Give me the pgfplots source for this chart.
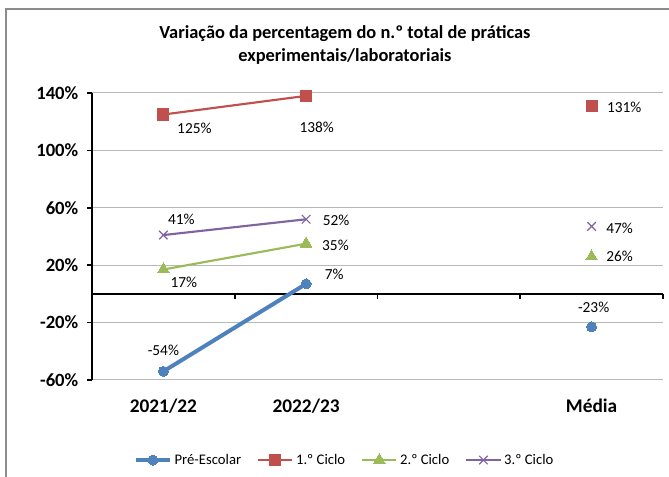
\documentclass[border=0pt]{standalone}
\usepackage{pgfplots}
\pgfplotsset{compat=1.18}
\usepackage{fontspec}
\setmainfont{Carlito}
\definecolor{cblue}{HTML}{4F81BD}
\definecolor{cred}{HTML}{C0504D}
\definecolor{cgreen}{HTML}{9BBB59}
\definecolor{cpurple}{HTML}{8064A2}
\begin{document}
\begin{tikzpicture}[x=1pt,y=1pt]
\useasboundingbox (-69,-72.75) rectangle (432.75,285);
\draw[black!45, line width=0.8pt] (-64.5,-100) rectangle (445,278.25);
\begin{axis}[
  at={(0,0)}, anchor=south west, scale only axis,
  width=428.25pt, height=215.25pt,
  xmin=-0.5, xmax=3.5, ymin=-60, ymax=140,
  axis y line*=left, axis x line*=bottom,
  x axis line style={draw=none},
  y axis line style={black, line width=1.4pt},
  xtick={0,1,3}, xticklabels={2021/22,2022/23,Média},
  major x tick style={draw=none},
  x tick label style={font=\fontsize{14.5}{16}\selectfont\bfseries, yshift=-11pt},
  ytick={-60,-20,20,60,100,140},
  yticklabels={-60\%,-20\%,20\%,60\%,100\%,140\%},
  y tick label style={font=\fontsize{14}{16}\selectfont\bfseries, xshift=-3pt},
  major y tick style={black, line width=1.2pt},
  ytick align=outside, major tick length=3.75pt,
  ymajorgrids, major grid style={black!28, line width=0.75pt},
  extra y ticks={0}, extra y tick labels={},
  extra y tick style={grid=major, major grid style={black, line width=1.4pt}, major tick length=0pt},
  unbounded coords=jump, clip=false,
  /pgf/number format/assume math mode=true,
  title={Variação da percentagem do n.º total de práticas\\experimentais/laboratoriais},
  title style={at={(0.443,1)}, anchor=south, yshift=12pt, align=center,
    font=\fontsize{13.8}{17.5}\selectfont\bfseries},
  legend style={at={(0.443,-0.279)}, anchor=center, legend columns=4, draw=none,
    font=\fontsize{11}{13}\selectfont,
    /tikz/every even column/.append style={column sep=10pt}},
  legend image code/.code={\draw[mark repeat=2,mark phase=2,#1] plot coordinates {(0cm,0cm) (0.45cm,0cm) (0.9cm,0cm)};},
  nodes near coords={\pgfmathprintnumber{\pgfplotspointmeta}\%},
  every node near coord/.append style={anchor=center, inner sep=0pt, text=black,
    font=\fontsize{11.5}{13}\selectfont},
]
\addplot[cblue, line width=3pt, mark=*, mark size=3.75pt, mark options={solid, line width=0pt},
  coordinate style/.condition={x<0.5}{xshift=0pt, yshift=16pt},
  coordinate style/.condition={x>0.5 && x<1.5}{xshift=21pt, yshift=7.5pt},
  coordinate style/.condition={x>2.5}{xshift=1.5pt, yshift=15pt},
] coordinates {(0,-54) (1,7) (2,nan) (3,-23)};
\addlegendentry{Pré-Escolar}
\addplot[cred, line width=1.6pt, mark=square*, mark size=4.2pt, mark options={solid, line width=0pt},
  coordinate style/.condition={x<0.5}{xshift=23.25pt, yshift=-10pt},
  coordinate style/.condition={x>0.5 && x<1.5}{xshift=7.9pt, yshift=-23.6pt},
  coordinate style/.condition={x>2.5}{xshift=24.4pt, yshift=-0.75pt},
] coordinates {(0,125) (1,138) (2,nan) (3,131)};
\addlegendentry{1.º Ciclo}
\addplot[cgreen, line width=1.6pt, mark=triangle*, mark size=5pt, mark options={solid, line width=0pt},
  coordinate style/.condition={x<0.5}{xshift=15.4pt, yshift=-9.4pt},
  coordinate style/.condition={x>0.5 && x<1.5}{xshift=22pt, yshift=-1.3pt},
  coordinate style/.condition={x>2.5}{xshift=21pt, yshift=0pt},
] coordinates {(0,17) (1,35) (2,nan) (3,26)};
\addlegendentry{2.º Ciclo}
\addplot[cpurple, line width=1.6pt, mark=x, mark size=4.5pt, mark options={solid, line width=0.9pt},
  coordinate style/.condition={x<0.5}{xshift=13.5pt, yshift=12pt},
  coordinate style/.condition={x>0.5 && x<1.5}{xshift=22.5pt, yshift=-0.75pt},
  coordinate style/.condition={x>2.5}{xshift=21pt, yshift=-1.5pt},
] coordinates {(0,41) (1,52) (2,nan) (3,47)};
\addlegendentry{3.º Ciclo}
\draw[black, line width=1.2pt] (axis cs:0.5,0) -- ++(0pt,-3.75pt);
\draw[black, line width=1.2pt] (axis cs:1.5,0) -- ++(0pt,-3.75pt);
\draw[black, line width=1.2pt] (axis cs:2.5,0) -- ++(0pt,-3.75pt);
\draw[black, line width=1.2pt] (axis cs:3.5,0) -- ++(0pt,-3.75pt);
\end{axis}
\end{tikzpicture}
\end{document}
